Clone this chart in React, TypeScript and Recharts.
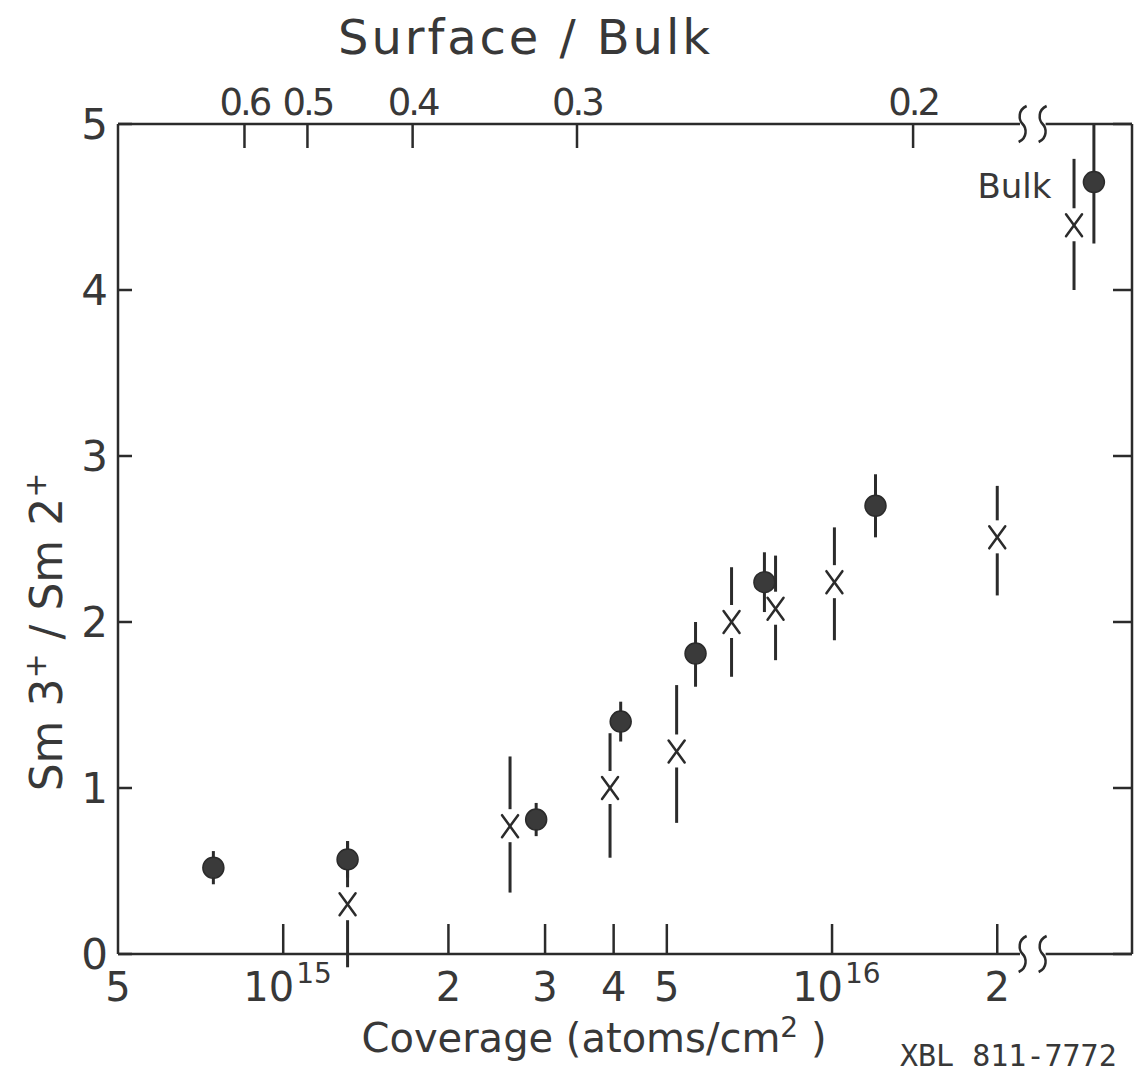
import React from "react";
import { ScatterChart, Scatter, XAxis, YAxis, ErrorBar, ReferenceLine, ReferenceDot } from "recharts";

const INK = "#2b2b2b";
const TEXT = "#383838";
const FONT = "'DejaVu Sans', sans-serif";

// filled circles (last one is the bulk value, drawn past the axis break)
const circleCoverage = [7.46e14, 1.31e15, 2.89e15, 4.12e15, 5.64e15, 7.53e15, 1.2e16, 3.0e16];
const circleRatio = [0.52, 0.57, 0.81, 1.4, 1.81, 2.24, 2.7, 4.65];
const circleErrLow = [0.1, 0.11, 0.1, 0.12, 0.2, 0.18, 0.19, 0.37];
const circleErrHigh = [0.1, 0.11, 0.1, 0.12, 0.19, 0.18, 0.19, 0.35];

// crosses (last one is bulk)
const crossCoverage = [1.31e15, 2.59e15, 3.94e15, 5.21e15, 6.56e15, 7.89e15, 1.01e16, 2.0e16, 2.76e16];
const crossRatio = [0.3, 0.77, 1.0, 1.22, 2.0, 2.08, 2.24, 2.51, 4.39];
const crossErrLow = [0.38, 0.4, 0.42, 0.43, 0.33, 0.31, 0.35, 0.35, 0.39];
const crossErrHigh = [0.38, 0.42, 0.33, 0.4, 0.33, 0.32, 0.33, 0.31, 0.4];

const bottomTicks = [5e14, 1e15, 2e15, 3e15, 4e15, 5e15, 1e16, 2e16];
const bottomLabels = ["5", "10^15", "2", "3", "4", "5", "10^16", "2"];
// surface/bulk ratio ticks, placed at the coverage they correspond to
const topTicks = [8.5e14, 1.107e15, 1.721e15, 3.43e15, 1.405e16];
const topLabels = ["0.6", "0.5", "0.4", "0.3", "0.2"];
const yTicks = [0, 1, 2, 3, 4, 5];

const xDomain = [5e14, 3.52e16];
const breakStart = 2.2e16;
const breakMid = 2.32e16;
const breakEnd = 2.45e16;

const circleData = circleCoverage.map((c, i) => ({
  coverage: c,
  ratio: circleRatio[i],
  err: [circleErrLow[i], circleErrHigh[i]],
}));
const crossData = crossCoverage.map((c, i) => ({
  coverage: c,
  ratio: crossRatio[i],
  err: [crossErrLow[i], crossErrHigh[i]],
}));

function Dot({ cx, cy }: any) {
  return <circle cx={cx} cy={cy} r={10.5} fill="#3a3a3a" stroke={INK} strokeWidth={1.5} />;
}

function Cross({ cx, cy }: any) {
  return (
    <g>
      <rect x={cx - 6} y={cy - 17} width={12} height={33} fill="#fff" />
      <line x1={cx - 8} y1={cy - 11} x2={cx + 8} y2={cy + 11} stroke={INK} strokeWidth={2.5} strokeLinecap="round" />
      <line x1={cx + 8} y1={cy - 11} x2={cx - 8} y2={cy + 11} stroke={INK} strokeWidth={2.5} strokeLinecap="round" />
    </g>
  );
}

function BottomTick({ x, y, payload }: any) {
  const i = bottomTicks.indexOf(payload.value);
  const [base, exp] = (bottomLabels[i] ?? "").split("^");
  return (
    <g>
      {i > 0 && <line x1={x} x2={x} y1={y} y2={y - 30} stroke={INK} strokeWidth={2.5} />}
      {exp ? (
        <g fontFamily={FONT} fill={TEXT}>
          <text x={x + 11} y={y + 47} fontSize={40} textAnchor="end">{base}</text>
          <text x={x + 13} y={y + 29} fontSize={28}>{exp}</text>
        </g>
      ) : (
        <text x={x} y={y + 47} fontSize={40} textAnchor="middle" fontFamily={FONT} fill={TEXT}>
          {base}
        </text>
      )}
    </g>
  );
}

function TopTick({ x, y, payload }: any) {
  const i = topTicks.indexOf(payload.value);
  return (
    <g>
      <line x1={x} x2={x} y1={y} y2={y + 24} stroke={INK} strokeWidth={2.5} />
      <text
        x={x}
        y={y - 9}
        fontSize={37}
        letterSpacing={-3}
        textAnchor="middle"
        fontFamily={FONT}
        fill={TEXT}
      >
        {topLabels[i]}
      </text>
    </g>
  );
}

function LeftTick({ x, y, payload }: any) {
  return (
    <g>
      <line x1={x} x2={x + 14} y1={y} y2={y} stroke={INK} strokeWidth={2.5} />
      <text x={x - 10} y={y + 15} fontSize={42} textAnchor="end" fontFamily={FONT} fill={TEXT}>
        {payload.value}
      </text>
    </g>
  );
}

function RightTick({ x, y }: any) {
  return <line x1={x} x2={x - 19} y1={y} y2={y} stroke={INK} strokeWidth={2.5} />;
}

function BreakMark({ cx, cy }: any) {
  const s = (x: number) =>
    `M ${x + 4} ${cy - 18} C ${x - 5} ${cy - 14} ${x - 4} ${cy - 4} ${x} ${cy} C ${x + 4} ${cy + 4} ${x + 5} ${cy + 14} ${x - 4} ${cy + 18}`;
  return (
    <g fill="none" stroke={INK} strokeWidth={2.5}>
      <path d={s(cx - 10)} />
      <path d={s(cx + 10)} />
    </g>
  );
}

function BulkText({ cx, cy }: any) {
  return (
    <text x={cx} y={cy + 13} fontSize={34} textAnchor="middle" fontFamily={FONT} fill={TEXT}>
      Bulk
    </text>
  );
}

function CoverageLabel({ viewBox }: any) {
  const { x, y } = viewBox;
  return (
    <g fontFamily={FONT} fill={TEXT}>
      <text x={x + 476} y={y + 98} fontSize={40} textAnchor="middle">
        Coverage (atoms/cm
        <tspan dy={-15} fontSize={28}>2</tspan>
        <tspan dy={15}> )</tspan>
      </text>
    </g>
  );
}

function TitleLabel({ viewBox }: any) {
  const { x, y } = viewBox;
  return (
    <text
      x={x + 220}
      y={y - 60}
      fontSize={48}
      textLength={372}
      lengthAdjust="spacing"
      fontFamily={FONT}
      fill={TEXT}
    >
      Surface / Bulk
    </text>
  );
}

function RatioLabel({ viewBox }: any) {
  const cx = viewBox.x - 6;
  const cy = viewBox.y + 508;
  return (
    <text
      x={cx}
      y={cy}
      fontSize={44}
      textAnchor="middle"
      fontFamily={FONT}
      fill={TEXT}
      transform={`rotate(-90, ${cx}, ${cy})`}
    >
      Sm 3<tspan dy={-16} fontSize={30}>+</tspan>
      <tspan dy={16}> / Sm 2</tspan>
      <tspan dy={-16} fontSize={30}>+</tspan>
    </text>
  );
}

export default function App() {
  return (
    <div style={{ position: "absolute", left: 0, top: 0, width: 1135, height: 1074, background: "#fff" }}>
      <ScatterChart width={1135} height={1074} margin={{ top: 114, right: 2, bottom: 110, left: 68 }}>
        <XAxis
          dataKey="coverage"
          type="number"
          scale="log"
          domain={xDomain}
          allowDataOverflow
          ticks={bottomTicks}
          interval={0}
          height={10}
          axisLine={false}
          tickLine={false}
          tickSize={0}
          tickMargin={0}
          tick={(p: any) => <BottomTick {...p} />}
          label={<CoverageLabel />}
        />
        <XAxis
          xAxisId="top"
          dataKey="coverage"
          orientation="top"
          type="number"
          scale="log"
          domain={xDomain}
          allowDataOverflow
          ticks={topTicks}
          interval={0}
          height={10}
          axisLine={false}
          tickLine={false}
          tickSize={0}
          tickMargin={0}
          tick={(p: any) => <TopTick {...p} />}
          label={<TitleLabel />}
        />
        <YAxis
          dataKey="ratio"
          type="number"
          domain={[0, 5]}
          allowDataOverflow
          ticks={yTicks}
          interval={0}
          width={50}
          axisLine={{ stroke: INK, strokeWidth: 2.5 }}
          tickLine={false}
          tickSize={0}
          tickMargin={0}
          tick={(p: any) => <LeftTick {...p} />}
          label={<RatioLabel />}
        />
        <YAxis
          yAxisId="right"
          orientation="right"
          type="number"
          domain={[0, 5]}
          allowDataOverflow
          ticks={yTicks}
          interval={0}
          width={1}
          axisLine={{ stroke: INK, strokeWidth: 2.5 }}
          tickLine={false}
          tickSize={0}
          tickMargin={0}
          tick={(p: any) => <RightTick {...p} />}
        />
        <ReferenceLine segment={[{ x: xDomain[0], y: 0 }, { x: breakStart, y: 0 }]} stroke={INK} strokeWidth={2.5} ifOverflow="visible" />
        <ReferenceLine segment={[{ x: breakEnd, y: 0 }, { x: xDomain[1], y: 0 }]} stroke={INK} strokeWidth={2.5} ifOverflow="visible" />
        <ReferenceLine segment={[{ x: xDomain[0], y: 5 }, { x: breakStart, y: 5 }]} stroke={INK} strokeWidth={2.5} ifOverflow="visible" />
        <ReferenceLine segment={[{ x: breakEnd, y: 5 }, { x: xDomain[1], y: 5 }]} stroke={INK} strokeWidth={2.5} ifOverflow="visible" />
        <ReferenceDot x={breakMid} y={0} r={1} ifOverflow="visible" shape={(p: any) => <BreakMark {...p} />} />
        <ReferenceDot x={breakMid} y={5} r={1} ifOverflow="visible" shape={(p: any) => <BreakMark {...p} />} />
        <ReferenceDot x={2.15e16} y={4.63} r={1} ifOverflow="visible" shape={(p: any) => <BulkText {...p} />} />
        {/* invisible copy so the top (surface/bulk) axis has data and draws its ticks */}
        <Scatter xAxisId="top" data={circleData} dataKey="ratio" shape={() => <g />} isAnimationActive={false} />
        <Scatter data={circleData} dataKey="ratio" shape={(p: any) => <Dot {...p} />} isAnimationActive={false}>
          <ErrorBar dataKey="err" direction="y" width={0} stroke={INK} strokeWidth={3} isAnimationActive={false} />
        </Scatter>
        <Scatter data={crossData} dataKey="ratio" shape={(p: any) => <Cross {...p} />} isAnimationActive={false}>
          <ErrorBar dataKey="err" direction="y" width={0} stroke={INK} strokeWidth={3} isAnimationActive={false} />
        </Scatter>
      </ScatterChart>
      <div
        style={{
          position: "absolute",
          left: 900,
          top: 1038,
          fontFamily: "'DejaVu Sans Mono', monospace",
          fontSize: 30,
          color: TEXT,
          whiteSpace: "nowrap",
        }}
      >
        XBL 811-7772
      </div>
    </div>
  );
}
